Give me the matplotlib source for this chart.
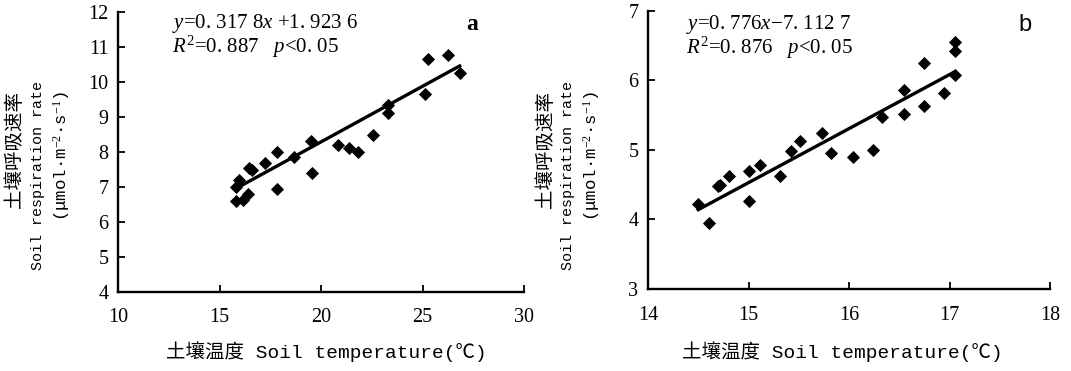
import numpy as np
import matplotlib
matplotlib.use("Agg")
import matplotlib.pyplot as plt

plt.rcParams['mathtext.fontset'] = 'custom'
plt.rcParams['mathtext.rm'] = 'Liberation Serif'
plt.rcParams['mathtext.it'] = 'Liberation Serif:italic'

# panel a: soil temperature (°C) vs soil respiration rate
temp_a = [15.82, 15.82, 15.98, 16.14, 16.38, 16.43, 16.59, 17.26, 17.85, 17.85,
          18.67, 19.50, 19.58, 20.83, 21.38, 21.83, 22.55, 23.30, 23.30, 25.14,
          25.27, 26.26, 26.83]
resp_a = [6.59, 7.00, 7.19, 6.62, 6.79, 7.54, 7.48, 7.69, 8.00, 6.93,
          7.84, 8.31, 7.40, 8.19, 8.10, 8.00, 8.48, 9.33, 9.10, 9.65,
          10.65, 10.76, 10.24]
fit_a = (0.3178, 1.9236)

# panel b
temp_b = [14.50, 14.61, 14.70, 14.72, 14.81, 15.00, 15.00, 15.11, 15.31, 15.42,
          15.51, 15.73, 15.82, 16.04, 16.24, 16.33, 16.55, 16.55, 16.75, 16.75,
          16.95, 17.05, 17.05, 17.05]
resp_b = [4.22, 3.95, 4.48, 4.50, 4.63, 4.69, 4.27, 4.78, 4.63, 4.98,
          5.12, 5.24, 4.95, 4.89, 5.00, 5.47, 5.86, 5.51, 6.25, 5.63,
          5.82, 6.08, 6.42, 6.55]
fit_b = (0.776, -7.1127)

W, H = 1071, 371
fig = plt.figure(figsize=(W / 100, H / 100), dpi=100)


def fx(px):
    return px / W


def fy(py):
    return 1 - py / H


mono = ['Liberation Mono', 'Noto Sans CJK SC']
cjk = ['Noto Sans CJK SC', 'Liberation Mono']


def panel(left, right, top, bottom, xs, ys, fit, xlim, ylim, xticks, yticks):
    ax = fig.add_axes([fx(left), fy(bottom), fx(right - left), (bottom - top) / H])
    ax.plot(xs, ys, 'D', color='black', markersize=6.2, markeredgewidth=0.6,
            zorder=3, clip_on=False)
    x0, x1 = min(xs), max(xs)
    ax.plot([x0, x1], [fit[0] * x0 + fit[1], fit[0] * x1 + fit[1]],
            color='black', lw=2.4, zorder=2)
    ax.set_xlim(*xlim)
    ax.set_ylim(*ylim)
    ax.set_xticks(xticks)
    ax.set_yticks(yticks)
    for s in ['top', 'right']:
        ax.spines[s].set_visible(False)
    for s in ['left', 'bottom']:
        ax.spines[s].set_linewidth(1.7)
    ax.tick_params(axis='x', direction='in', length=5, width=1.3, pad=12,
                   labelsize=14.5)
    ax.tick_params(axis='y', direction='in', length=5, width=1.3, pad=7,
                   labelsize=14.5)
    for lab in ax.get_xticklabels() + ax.get_yticklabels():
        lab.set_fontfamily('Liberation Serif')
    return ax


ax_a = panel(118, 524, 11.7, 291.7, temp_a, resp_a, fit_a, (10, 30), (4, 12),
             [10, 15, 20, 25, 30], range(4, 13))
ax_b = panel(648, 1050, 10.5, 289, temp_b, resp_b, fit_b, (14, 18), (3, 7),
             [14, 15, 16, 17, 18], range(3, 8))

# axis titles, drawn as separate lines like the original
for off, cx in [(0, 326), (530, 842)]:
    fig.text(fx(cx), fy(352), '土壤温度 Soil temperature(℃)', family=mono,
             fontsize=14, ha='center', va='center')
    fig.text(fx(off + 15), fy(150), '土壤呼吸速率', family=cjk, fontsize=14,
             rotation=90, ha='center', va='center')
    fig.text(fx(off + 38), fy(175), 'Soil respiration rate', family=mono,
             fontsize=10.8, rotation=90, ha='center', va='center')
    fig.text(fx(off + 62), fy(156), '(μmol·m$^{-2}$·s$^{-1}$)', family=mono,
             fontsize=12.5, rotation=90, ha='center', va='center')

# regression equations (two lines in one text block)
fig.text(fx(172), fy(12), '$y$=0. 317 8$x$ +1. 923 6\n$R^{2}$=0. 887   $p$<0. 05',
         family='Liberation Serif', fontsize=15, ha='left', va='top',
         linespacing=0.95)
fig.text(fx(686), fy(13), '$y$=0. 776$x$−7. 112 7\n$R^{2}$=0. 876   $p$<0. 05',
         family='Liberation Serif', fontsize=15, ha='left', va='top',
         linespacing=0.95)

fig.text(fx(472), fy(25), 'a', family='Liberation Serif', fontsize=17,
         fontweight='bold', ha='center', va='center')
fig.text(fx(1025), fy(25), 'b', family='Liberation Sans', fontsize=17,
         ha='center', va='center')

fig.savefig('out.png', dpi=100, facecolor='white')
